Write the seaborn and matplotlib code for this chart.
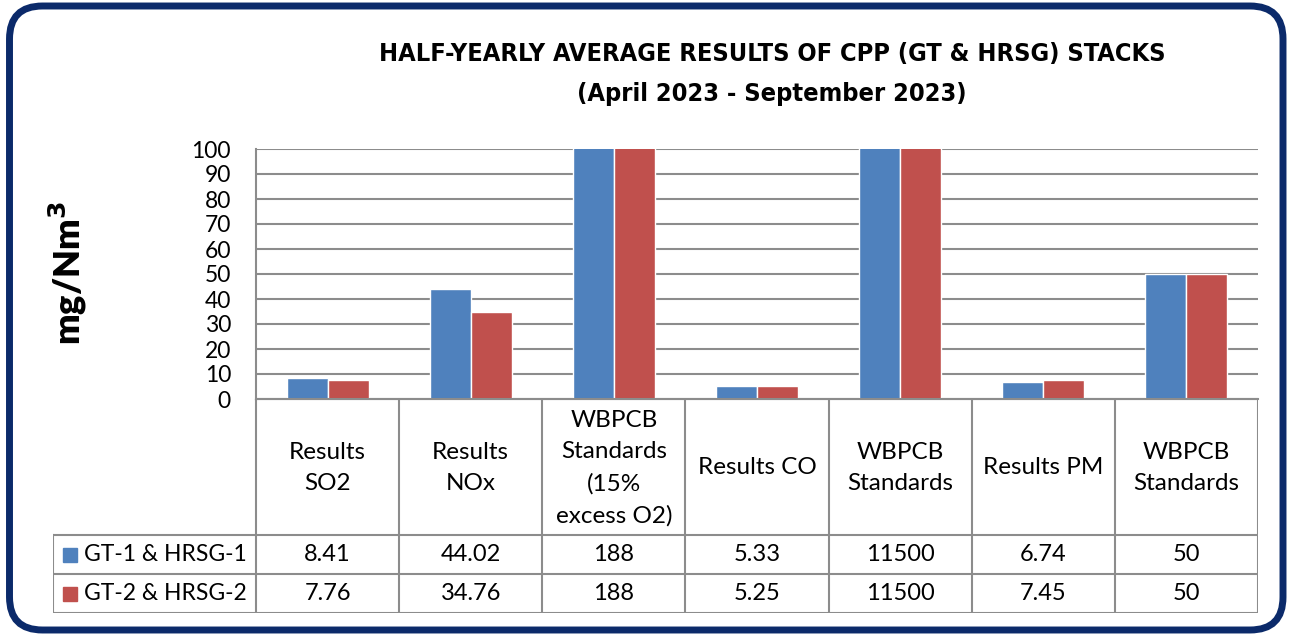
import matplotlib
matplotlib.use('Agg')
import matplotlib.pyplot as plt
from matplotlib import font_manager as fm
from matplotlib.patches import FancyBboxPatch
import pandas as pd
import seaborn as sns

# Data
categories = ['Results\nSO2', 'Results\nNOx', 'WBPCB\nStandards\n(15%\nexcess O2)',
              'Results CO', 'WBPCB\nStandards', 'Results PM', 'WBPCB\nStandards']
series = ['GT-1 & HRSG-1', 'GT-2 & HRSG-2']
gt1_values = [8.41, 44.02, 188, 5.33, 11500, 6.74, 50]
gt2_values = [7.76, 34.76, 188, 5.25, 11500, 7.45, 50]
y_ticks = [0, 10, 20, 30, 40, 50, 60, 70, 80, 90, 100]

colors = ['#4F81BD', '#C0504D']
grid_col = '#8C8C8C'

df = pd.DataFrame({
    'cat': list(range(len(categories))) * 2,
    'value': gt1_values + gt2_values,
    'series': [series[0]] * len(categories) + [series[1]] * len(categories),
})


def narrow_bold_font():
    # look for a condensed bold face among installed fonts for the title
    order = ['extra-condensed', 'ultra-condensed', 'condensed', 'semi-condensed']
    best = None
    for f in fm.fontManager.ttflist:
        w = f.weight if isinstance(f.weight, int) else fm.weight_dict.get(f.weight, 400)
        if w < 700 or f.style != 'normal' or f.stretch not in order:
            continue
        rank = (order.index(f.stretch), abs(w - 700))
        if best is None or rank < best[0]:
            best = (rank, f.fname)
    if best:
        return fm.FontProperties(fname=best[1])
    return fm.FontProperties(family='DejaVu Sans', weight='bold')


sns.set_style('white')
plt.rcParams['font.family'] = ['Lato', 'DejaVu Sans']
plt.rcParams['text.color'] = 'black'

W, H = 1291, 635
fig = plt.figure(figsize=(W / 100, H / 100), dpi=100)

# Rounded navy frame
frame = FancyBboxPatch((0.095, 0.05), 12.735, 6.24,
                       boxstyle='round,pad=0,rounding_size=0.33',
                       transform=fig.dpi_scale_trans, facecolor='none',
                       edgecolor='#0B2A6A', linewidth=5, zorder=0)
fig.patches.append(frame)

# Bar axes
ax = fig.add_axes([256 / W, (H - 399) / H, 1002 / W, 250 / H])
ax.set_facecolor('none')
sns.barplot(data=df, x='cat', y='value', hue='series', palette=colors,
            width=0.573, ax=ax, legend=False, saturation=1, order=range(len(categories)))
ax.set_ylim(0, 100)
ax.set_xlim(-0.5, len(categories) - 0.5)
ax.set_yticks(y_ticks)
ax.tick_params(axis='y', length=0, pad=18, labelsize=16.5, labelcolor='black')
ax.tick_params(axis='x', length=0, labelbottom=False)
ax.set_xlabel('')
ax.set_ylabel('')
ax.grid(axis='y', color=grid_col, linewidth=1.5, zorder=0)
ax.set_axisbelow(True)
for side in ['top', 'right']:
    ax.spines[side].set_visible(False)
for side in ['left', 'bottom']:
    ax.spines[side].set_color(grid_col)
    ax.spines[side].set_linewidth(1.5)

# Data table under the axes
n = len(categories)
px = 1002 / n
legw = 203 / px
tax = fig.add_axes([53 / W, (H - 613) / H, 1205 / W, 214 / H])
tax.set_xlim(-0.5 - legw, n - 0.5)
tax.set_ylim(0, 214)
tax.axis('off')
lk = dict(color=grid_col, linewidth=1.5, solid_capstyle='projecting')
tax.plot([-0.5, n - 0.5], [214, 214], **lk)
for yy in [78, 39, 0]:
    tax.plot([-0.5 - legw, n - 0.5], [yy, yy], **lk)
tax.plot([-0.5 - legw, -0.5 - legw], [0, 78], **lk)
for k in range(n + 1):
    tax.plot([k - 0.5, k - 0.5], [0, 214], **lk)

for i, cat in enumerate(categories):
    tax.text(i, 145, cat, ha='center', va='center', fontsize=17.5, linespacing=1.6)
    tax.text(i, 58.5, '{:g}'.format(gt1_values[i]), ha='center', va='center', fontsize=17)
    tax.text(i, 19.5, '{:g}'.format(gt2_values[i]), ha='center', va='center', fontsize=17)

for j, (name, yy) in enumerate(zip(series, [58.5, 19.5])):
    tax.plot([-0.5 - legw + 17 / px], [yy], marker='s', markersize=9.5,
             color=colors[j], linestyle='none')
    tax.text(-0.5 - legw + 31 / px, yy, name, ha='left', va='center', fontsize=16.5)

# Y label
fig.text(68 / W, (H - 273) / H, 'mg/Nm$^\\mathbf{3}$', rotation=90, ha='center', va='center',
         fontsize=26, fontweight='heavy')

# Title
title_font = narrow_bold_font()
title_font.set_size(18.2)
fig.text(772 / W, (H - 74) / H,
         'HALF-YEARLY AVERAGE RESULTS OF CPP (GT & HRSG) STACKS\n(April 2023 - September 2023)',
         ha='center', va='center', linespacing=1.8, fontproperties=title_font)

fig.savefig('out.png', dpi=100)
